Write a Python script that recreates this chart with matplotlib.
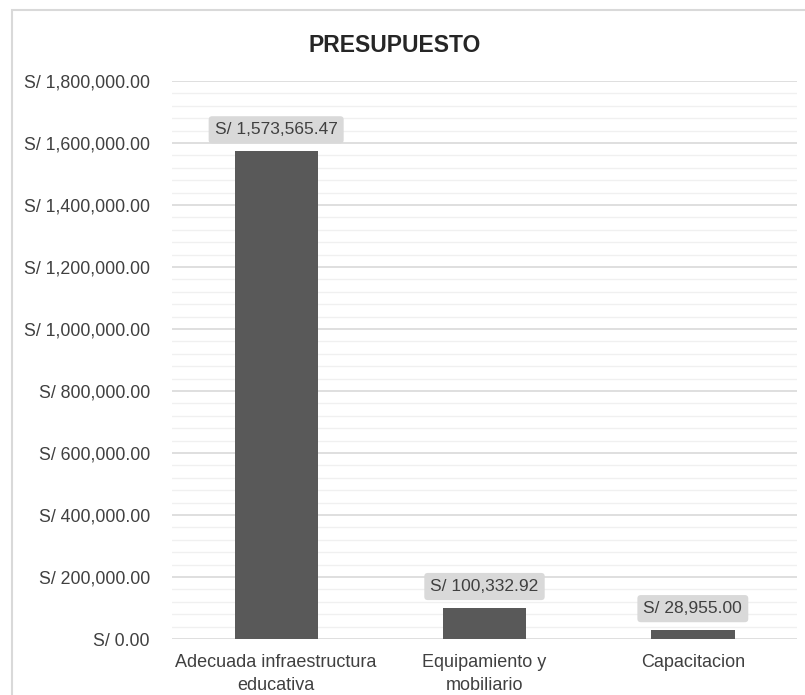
import numpy as np
import matplotlib.pyplot as plt
from matplotlib.patches import Rectangle
from matplotlib.ticker import MultipleLocator, FuncFormatter

plt.rcParams['font.family'] = ['Liberation Sans', 'DejaVu Sans']

categorias = ["Adecuada infraestructura\neducativa", "Equipamiento y\nmobiliario", "Capacitacion"]
montos = [1573565.47, 100332.92, 28955.00]

fig = plt.figure(figsize=(8.05, 6.95), dpi=100)
ax = fig.add_axes([172 / 805, 1 - 639 / 695, 625 / 805, (639 - 81) / 695])

# marco exterior del grafico
fig.patches.append(Rectangle((12 / 805, -0.1), 1.2, 1.1 - 10 / 695, transform=fig.transFigure,
                             fill=False, edgecolor="#d9d9d9", linewidth=1.5))

x = np.arange(len(categorias))
ax.bar(x, montos, width=0.4, color="#595959", zorder=3)

for xi, v in zip(x, montos):
    ax.annotate(f"S/ {v:,.2f}", (xi, v), xytext=(0, 10), textcoords="offset points",
                ha="center", va="bottom", fontsize=12.5, color="#404040", zorder=4,
                bbox=dict(boxstyle="round,pad=0.35,rounding_size=0.2",
                          facecolor="#d9d9d9", edgecolor="none"))

ax.set_xlim(-0.5, 2.5)
ax.set_ylim(0, 1800000)
ax.yaxis.set_major_locator(MultipleLocator(200000))
ax.yaxis.set_minor_locator(MultipleLocator(40000))
ax.yaxis.set_major_formatter(FuncFormatter(lambda v, p: f"S/ {v:,.2f}"))
ax.grid(axis="y", which="major", color="#d9d9d9", linewidth=1.2, zorder=0)
ax.grid(axis="y", which="minor", color="#f0f0f0", linewidth=1.0, zorder=0)

ax.set_xticks(x)
ax.set_xticklabels(categorias, fontsize=13, color="#404040", linespacing=1.45)
ax.tick_params(axis="y", labelsize=12.8, colors="#404040", length=0, pad=16)
ax.tick_params(axis="y", which="minor", length=0)
ax.tick_params(axis="x", length=0, pad=11)
for s in ax.spines.values():
    s.set_visible(False)

fig.text(395 / 805, 1 - 46 / 695, "PRESUPUESTO", ha="center", va="center",
         fontsize=16.5, fontweight="bold", color="#262626")

fig.savefig("out.png", dpi=100)
